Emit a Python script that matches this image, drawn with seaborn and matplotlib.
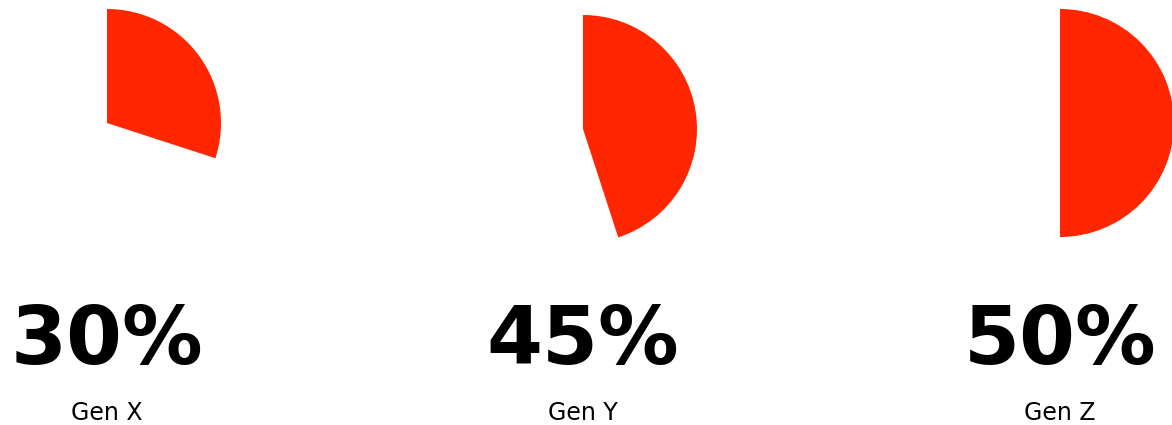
import matplotlib
matplotlib.use("Agg")
import matplotlib.pyplot as plt
import seaborn as sns

groups = ["Gen X", "Gen Y", "Gen Z"]
shares = [30, 45, 50]
labels = ["30%", "45%", "50%"]

sns.set_theme(style="white")
plt.rcParams['font.family'] = ['DejaVu Sans']

W, H = 1172, 425
fig = plt.figure(figsize=(W / 100, H / 100), dpi=100)
fig.patch.set_facecolor("white")

red = "#ff2600"
centers = [(107, 123), (583, 129), (1060, 123)]
R = 114

for (cx, cy), share, lab, grp in zip(centers, shares, labels, groups):
    ax = fig.add_axes([(cx - R) / W, 1 - (cy + R) / H, 2 * R / W, 2 * R / H])
    ax.pie([share, 100 - share], colors=[red, (1, 1, 1, 0)], startangle=90,
           counterclock=False, radius=1, wedgeprops=dict(linewidth=0))
    ax.set_xlim(-1, 1)
    ax.set_ylim(-1, 1)
    ax.set_aspect("equal")
    ax.axis("off")
    ax.patch.set_alpha(0)
    fig.text(cx / W, 1 - 364 / H, lab, ha="center", va="baseline",
             fontsize=58, fontweight="bold", color="black")
    fig.text(cx / W, 1 - 420 / H, grp, ha="center", va="baseline",
             fontsize=17, color="black")

fig.savefig("out.png", dpi=100, facecolor="white")
